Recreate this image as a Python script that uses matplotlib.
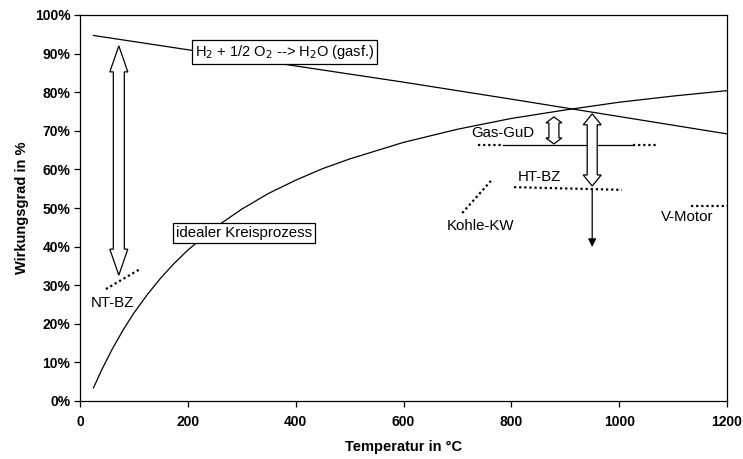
import numpy as np
import matplotlib.pyplot as plt
from matplotlib.patches import Polygon
from matplotlib.ticker import PercentFormatter

plt.rcParams['font.family'] = ['Liberation Sans', 'DejaVu Sans']

# Werte
temp_h2 = [25, 200, 400, 600, 800, 1000, 1200]
eta_h2 = [0.947, 0.910, 0.868, 0.826, 0.782, 0.737, 0.692]

temp_carnot = [25, 40, 60, 80, 100, 125, 150, 175, 200, 250, 300, 350, 400,
               450, 500, 600, 700, 800, 900, 1000, 1100, 1200]
eta_carnot = [0.034, 0.080, 0.135, 0.184, 0.228, 0.276, 0.319, 0.357, 0.391,
              0.449, 0.497, 0.538, 0.572, 0.602, 0.627, 0.670, 0.704, 0.732,
              0.754, 0.774, 0.790, 0.804]

nt_bz_x, nt_bz_y = [48, 109], [0.29, 0.34]
kohle_x, kohle_y = [709, 762], [0.487, 0.570]
gud_left_x, gud_right_x, gud_y = [738, 785], [1026, 1070], 0.663
gud_solid_x = [785, 1026]
htbz_x, htbz_y = [805, 1005], [0.554, 0.547]
vmotor_x, vmotor_y = [1133, 1200], [0.505, 0.505]

W, H = 743, 459
fig = plt.figure(figsize=(W / 100, H / 100), dpi=100)
ax = fig.add_axes([80 / W, 58 / H, 647 / W, 386 / H])

ax.set_xlim(0, 1200)
ax.set_ylim(0, 1)
px_x = 1200 / 647   # data units per pixel
px_y = 1.0 / 386


def hollow_arrow(x, y0, y1, shaft, head, headlen):
    sw = shaft * px_x / 2
    hw = head * px_x / 2
    hl = headlen * px_y
    pts = [(x, y1), (x + hw, y1 - hl), (x + sw, y1 - hl), (x + sw, y0 + hl),
           (x + hw, y0 + hl), (x, y0), (x - hw, y0 + hl), (x - sw, y0 + hl),
           (x - sw, y1 - hl), (x - hw, y1 - hl)]
    ax.add_patch(Polygon(pts, closed=True, facecolor='white',
                         edgecolor='black', lw=0.9, zorder=4))


ax.plot(temp_h2, eta_h2, color='black', lw=0.9)
ax.plot(temp_carnot, eta_carnot, color='black', lw=0.9)

box = dict(boxstyle='square,pad=0.2', facecolor='white', edgecolor='black', lw=0.9)
ax.text(380, 0.904, 'H$_2$ + 1/2 O$_2$ --> H$_2$O (gasf.)', ha='center', va='center',
        fontsize=10.5, bbox=box, zorder=5)
ax.text(304, 0.435, 'idealer Kreisprozess', ha='center', va='center',
        fontsize=10.8, bbox=box, zorder=5)

dot = dict(color='black', lw=1.6, ls=(0, (1, 1.3)))
ax.plot(nt_bz_x, nt_bz_y, **dot)
ax.plot(kohle_x, kohle_y, **dot)
ax.plot(gud_left_x, [gud_y, gud_y], **dot)
ax.plot(gud_right_x, [gud_y, gud_y], **dot)
ax.plot(gud_solid_x, [gud_y, gud_y], color='black', lw=0.9)
ax.plot(htbz_x, htbz_y, **dot)
ax.plot(vmotor_x, vmotor_y, **dot)

fs = 10.8
ax.text(61, 0.254, 'NT-BZ', ha='center', va='center', fontsize=fs)
ax.text(742, 0.453, 'Kohle-KW', ha='center', va='center', fontsize=fs)
ax.text(785, 0.694, 'Gas-GuD', ha='center', va='center', fontsize=fs)
ax.text(852, 0.580, 'HT-BZ', ha='center', va='center', fontsize=fs)
ax.text(1126, 0.477, 'V-Motor', ha='center', va='center', fontsize=fs)

hollow_arrow(72, 0.326, 0.920, 11, 18, 26)
hollow_arrow(879, 0.666, 0.736, 10, 16, 6)
hollow_arrow(950, 0.557, 0.744, 10, 18, 11)

ax.annotate('', xy=(950, 0.399), xytext=(950, 0.547),
            arrowprops=dict(arrowstyle='-|>', color='black', lw=0.9,
                            mutation_scale=12, shrinkA=0, shrinkB=0))

ax.set_xticks(np.arange(0, 1201, 200))
ax.set_yticks(np.arange(0, 1.01, 0.1))
ax.yaxis.set_major_formatter(PercentFormatter(1.0, decimals=0))
ax.tick_params(direction='out', length=4, width=0.9, labelsize=10)
ax.tick_params(axis='y', pad=3)
ax.tick_params(axis='x', pad=6)
for lab in ax.get_xticklabels() + ax.get_yticklabels():
    lab.set_fontweight('bold')
for s in ax.spines.values():
    s.set_linewidth(0.9)

ax.set_xlabel('Temperatur in °C', fontsize=10.5, fontweight='bold', labelpad=8)
ax.set_ylabel('Wirkungsgrad in %', fontsize=10.5, fontweight='bold', labelpad=4)

fig.savefig('out.png', dpi=100)
